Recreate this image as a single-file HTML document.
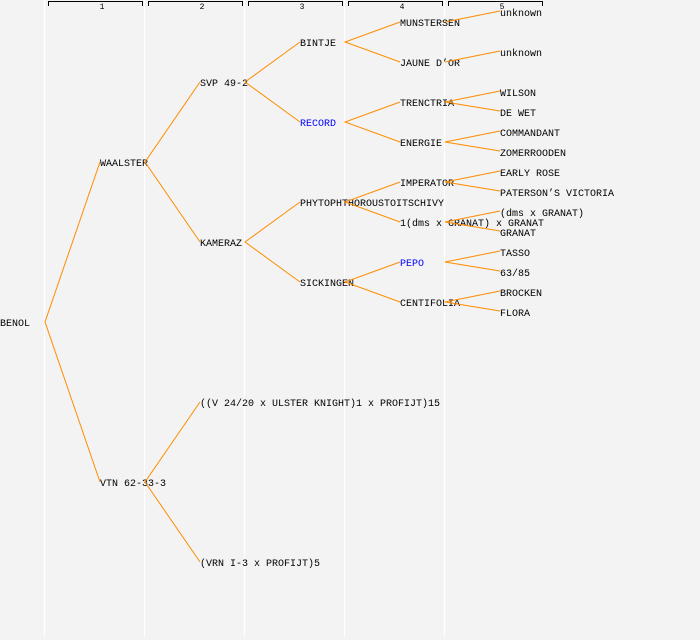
<!DOCTYPE html>
<html><head><meta charset="utf-8"><style>
html,body{margin:0;padding:0;background:#f3f3f3;}
svg{display:block;}
text{font-family:"Liberation Mono","DejaVu Sans Mono",monospace;font-size:10px;fill:#000;}
.b{fill:#0000ff;}
.h{font-size:8px;}
</style></head><body>
<svg width="700" height="640" xmlns="http://www.w3.org/2000/svg">
<rect width="700" height="640" fill="#f3f3f3"/>
<g stroke="#ffffff" stroke-width="1.2">
<line x1="44.5" y1="0" x2="44.5" y2="637"/>
<line x1="144.5" y1="0" x2="144.5" y2="637"/>
<line x1="244.5" y1="0" x2="244.5" y2="637"/>
<line x1="344.5" y1="0" x2="344.5" y2="637"/>
<line x1="444.5" y1="0" x2="444.5" y2="637"/>
</g>
<g stroke="#000" stroke-width="1" fill="none">
<path d="M48.5 6V1.5H142.5V6"/>
<path d="M148.5 6V1.5H242.5V6"/>
<path d="M248.5 6V1.5H342.5V6"/>
<path d="M348.5 6V1.5H442.5V6"/>
<path d="M448.5 6V1.5H542.5V6"/>
</g>
<g class="h" text-anchor="middle">
<text class="h" x="102" y="9">1</text>
<text class="h" x="202" y="9">2</text>
<text class="h" x="302" y="9">3</text>
<text class="h" x="402" y="9">4</text>
<text class="h" x="502" y="9">5</text>
</g>
<g>
<text x="0" y="326">BENOL</text>
<text x="100" y="166">WAALSTER</text>
<text x="100" y="486">VTN 62-33-3</text>
<text x="200" y="86">SVP 49-2</text>
<text x="200" y="246">KAMERAZ</text>
<text x="200" y="406">((V 24/20 x ULSTER KNIGHT)1 x PROFIJT)15</text>
<text x="200" y="566">(VRN I-3 x PROFIJT)5</text>
<text x="300" y="46">BINTJE</text>
<text x="300" y="126" class="b">RECORD</text>
<text x="300" y="206">PHYTOPHTHOROUSTOITSCHIVY</text>
<text x="300" y="286">SICKINGEN</text>
<text x="400" y="26">MUNSTERSEN</text>
<text x="400" y="66">JAUNE D’OR</text>
<text x="400" y="106">TRENCTRIA</text>
<text x="400" y="146">ENERGIE</text>
<text x="400" y="186">IMPERATOR</text>
<text x="400" y="226">1(dms x GRANAT) x GRANAT</text>
<text x="400" y="266" class="b">PEPO</text>
<text x="400" y="306">CENTIFOLIA</text>
<text x="500" y="16">unknown</text>
<text x="500" y="56">unknown</text>
<text x="500" y="96">WILSON</text>
<text x="500" y="116">DE WET</text>
<text x="500" y="136">COMMANDANT</text>
<text x="500" y="156">ZOMERROODEN</text>
<text x="500" y="176">EARLY ROSE</text>
<text x="500" y="196">PATERSON’S VICTORIA</text>
<text x="500" y="216">(dms x GRANAT)</text>
<text x="500" y="236">GRANAT</text>
<text x="500" y="256">TASSO</text>
<text x="500" y="276">63/85</text>
<text x="500" y="296">BROCKEN</text>
<text x="500" y="316">FLORA</text>
</g>
<g stroke="#ff8c00" stroke-width="1" fill="none">
<path d="M100 162L45 322L100 482"/>
<path d="M200 82L145 162L200 242"/>
<path d="M200 402L145 482L200 562"/>
<path d="M300 42L245 82L300 122"/>
<path d="M300 202L245 242L300 282"/>
<path d="M400 22L345 42L400 62"/>
<path d="M400 102L345 122L400 142"/>
<path d="M400 182L345 202L400 222"/>
<path d="M400 262L345 282L400 302"/>
<path d="M500 11L445 22"/>
<path d="M500 51L445 62"/>
<path d="M500 91L445 102L500 111"/>
<path d="M500 131L445 142L500 151"/>
<path d="M500 171L445 182L500 191"/>
<path d="M500 211L445 222L500 231"/>
<path d="M500 251L445 262L500 271"/>
<path d="M500 291L445 302L500 311"/>
</g>
</svg>
</body></html>
